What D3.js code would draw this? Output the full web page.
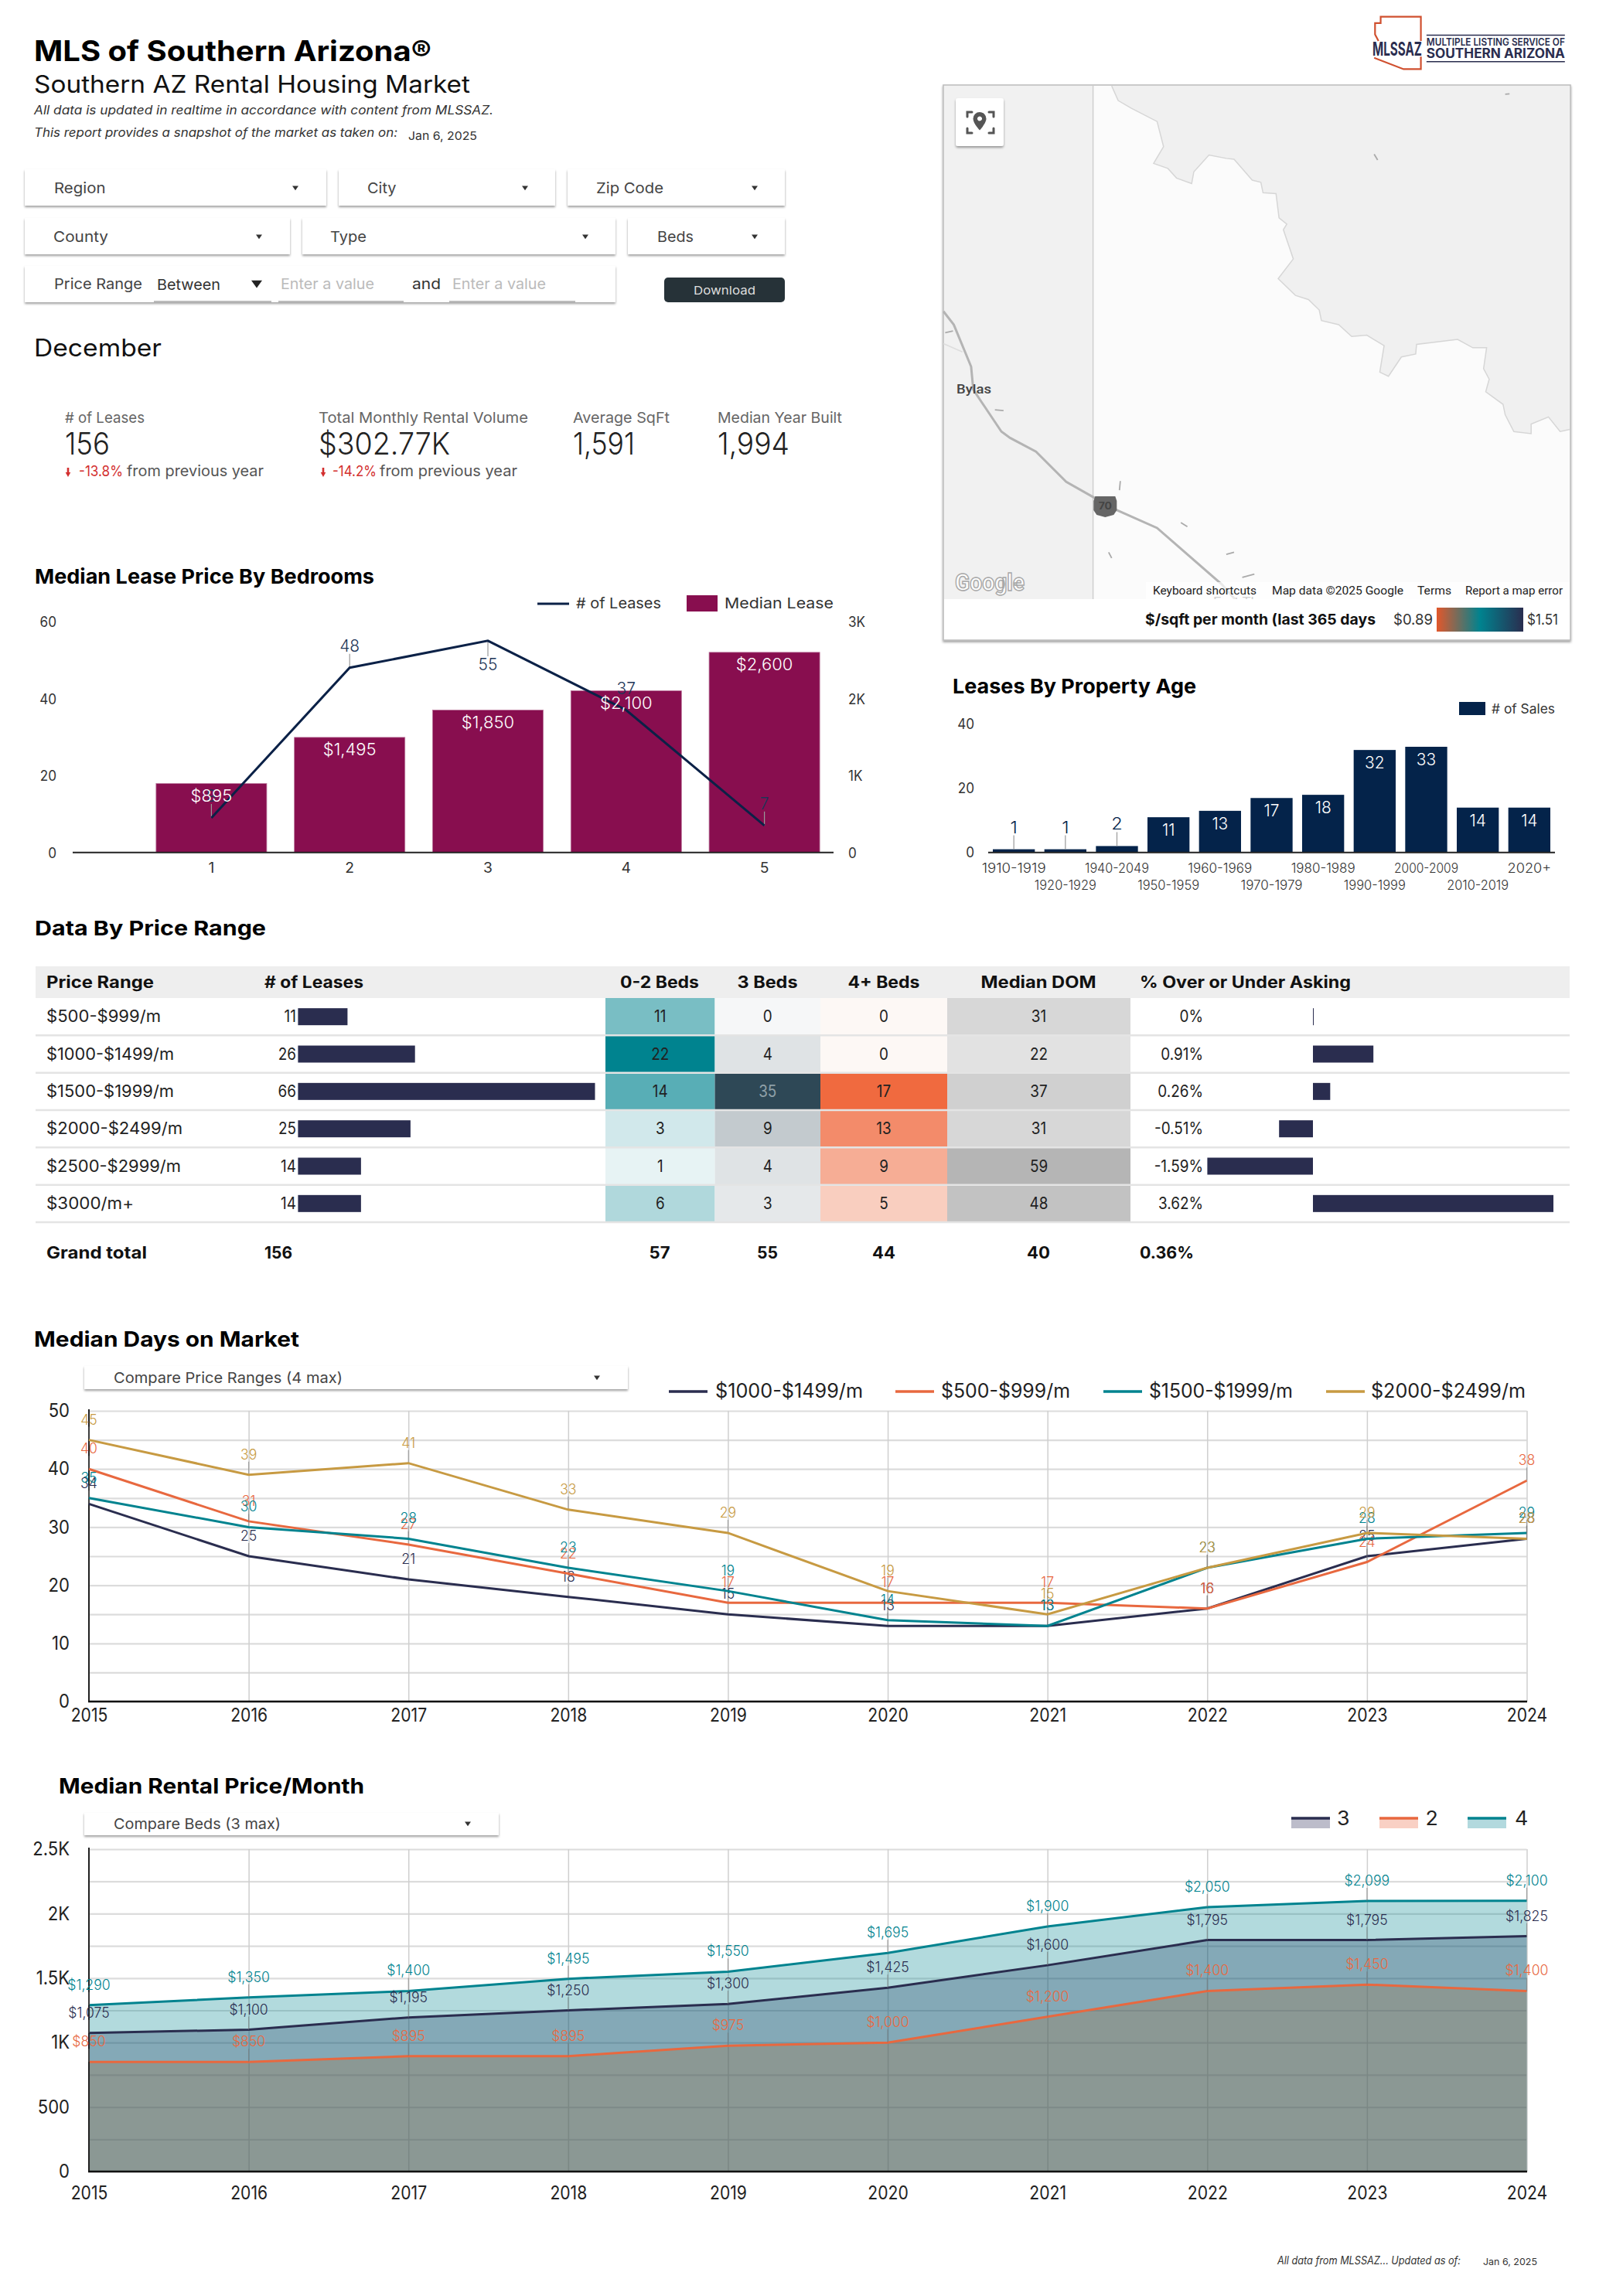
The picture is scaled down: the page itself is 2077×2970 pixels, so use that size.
<!DOCTYPE html>
<html><head><meta charset="utf-8">
<script src="https://cdn.jsdelivr.net/npm/d3@7"></script>
<style>html,body{margin:0;padding:0;background:#fff}svg{display:block}</style></head>
<body><svg id="c" width="2077" height="2970"></svg>
<script>
// ---------- data ----------
const bedrooms=[1,2,3,4,5];
const medianLease=[895,1495,1850,2100,2600];
const leaseCounts=[9,48,55,37,7];
const ageBuckets=["1910-1919","1920-1929","1940-2049","1950-1959","1960-1969","1970-1979","1980-1989","1990-1999","2000-2009","2010-2019","2020+"];
const ageCounts=[1,1,2,11,13,17,18,32,33,14,14];
const priceRanges=["$500-$999/m","$1000-$1499/m","$1500-$1999/m","$2000-$2499/m","$2500-$2999/m","$3000/m+"];
const rangeLeases=[11,26,66,25,14,14];
const beds02=[11,22,14,3,1,6];
const beds3=[0,4,35,9,4,3];
const beds4=[0,0,17,13,9,5];
const medianDom=[31,22,37,31,59,48];
const overUnder=[0,0.91,0.26,-0.51,-1.59,3.62];
const totals=["Grand total","156","57","55","44","40","0.36%"];
const years=[2015,2016,2017,2018,2019,2020,2021,2022,2023,2024];
const domA=[34,25,21,18,15,13,13,16,25,28];
const domB=[40,31,27,22,17,17,17,16,24,38];
const domC=[35,30,28,23,19,14,13,23,28,29];
const domD=[45,39,41,33,29,19,15,23,29,28];
const rent3=[1075,1100,1195,1250,1300,1425,1600,1795,1795,1825];
const rent2=[850,850,895,895,975,1000,1200,1400,1450,1400];
const rent4=[1290,1350,1400,1495,1550,1695,1900,2050,2099,2100];

// ---------- helpers ----------
const FONT="Inter, 'Open Sans', sans-serif", STRETCH=1.07;
const NAVY="#2a2d4f", ORANGE="#e8683f", TEAL="#00838f", GOLD="#c79a42", DEEP="#04234a", WINE="#880e4f";
const svg=d3.select("#c").style("font-family",FONT);
const defs=svg.append("defs");
const f=defs.append("filter").attr("id","sh").attr("x","-5%").attr("y","-20%").attr("width","110%").attr("height","150%");
f.append("feDropShadow").attr("dx",0).attr("dy",2).attr("stdDeviation",1.6).attr("flood-color","#000").attr("flood-opacity",.38);
function fit(node,w,st){const l=w||node.getComputedTextLength()*(st||STRETCH);node.setAttribute("textLength",l);node.setAttribute("lengthAdjust","spacingAndGlyphs");}
function T(g,x,y,s,o={}){
  const t=g.append("text").attr("x",x).attr("y",y).text(s)
    .attr("font-size",o.size||19).attr("font-weight",o.weight||400).attr("fill",o.fill||"#222")
    .attr("text-anchor",o.anchor||"start").attr("font-style",o.italic?"italic":"normal");
  if(o.family)t.attr("font-family",o.family);
  fit(t.node(),o.w,o.st);
  return t;
}
function axisText(sel,size,fill,st){sel.selectAll("text").attr("font-size",size).attr("fill",fill||"#222").attr("font-family",FONT).each(function(){fit(this,null,st)});}
function dropdown(x,y,w,h,label,lx,tx,ly,lw){
  svg.append("rect").attr("x",x).attr("y",y).attr("width",w).attr("height",h).attr("fill","#fff").attr("filter","url(#sh)");
  T(svg,lx,ly,label,{size:19,fill:"#444",w:lw});
  if(tx)tri(tx,ly-7,4,"#333");
}
function tri(x,y,r,c){svg.append("path").attr("d",`M${x-r},${y-r*.6}L${x+r},${y-r*.6}L${x},${y+r*.8}Z`).attr("fill",c);}

// ---------- header ----------
T(svg,44,79,"MLS of Southern Arizona®",{size:37,weight:700,fill:"#000",w:514});
T(svg,44,120,"Southern AZ Rental Housing Market",{size:31,fill:"#111",w:564});
T(svg,44,148,"All data is updated in realtime in accordance with content from MLSSAZ.",{size:16,italic:1,fill:"#333",w:594});
T(svg,44,177,"This report provides a snapshot of the market as taken on:",{size:16,italic:1,fill:"#333",w:470});
T(svg,528,181,"Jan 6, 2025",{size:15,fill:"#333",w:89});

dropdown(32,219,390,47,"Region",70,382,250,66.5);
dropdown(438,219,280,47,"City",475,679,250,37.5);
dropdown(734,219,281,47,"Zip Code",771,976,250,87);
dropdown(32,282,343,47,"County",69,335,313,71);
dropdown(391,282,405,47,"Type",427,757,313,47);
dropdown(812,282,203,47,"Beds",850,976,313,47);
dropdown(32,344,764,47,"Price Range",70,null,374,114);
T(svg,203,375,"Between",{size:19,fill:"#333",w:82});
tri(332,367,7,"#222");
[[199,351],[360,522],[581,744]].forEach(([a,b])=>svg.append("line").attr("x1",a).attr("x2",b).attr("y1",390).attr("y2",390).attr("stroke","#bbb").attr("stroke-width",2));
T(svg,363,374,"Enter a value",{size:19,fill:"#bbb",w:121});
T(svg,533,374,"and",{size:19,fill:"#333",w:37});
T(svg,585,374,"Enter a value",{size:19,fill:"#bbb",w:121});
svg.append("rect").attr("x",859).attr("y",359).attr("width",156).attr("height",32).attr("rx",5).attr("fill","#263238");
T(svg,937,381,"Download",{size:15,fill:"#ddd",anchor:"middle",w:80});
T(svg,44,461,"December",{size:31,fill:"#111",w:165});

// KPIs
const kpiX=[84,412,741,928];
[["# of Leases","156",103,58],["Total Monthly Rental Volume","$302.77K",271,170],["Average SqFt","1,591",125,80],["Median Year Built","1,994",161,93]].forEach((k,i)=>{
  T(svg,kpiX[i],547,k[0],{size:19,fill:"#666",w:k[2]});
  T(svg,kpiX[i],588,k[1],{size:39,fill:"#222",weight:300,w:k[3]});
});
[[88,102,164,"-13.8%",177],[418,430,491,"-14.2%",178]].forEach(a=>{
  svg.append("path").attr("d",`M${a[0]-1.3},605h2.6v6h2l-3.3,6l-3.3,-6h2z`).attr("fill","#d32f2f");
  T(svg,a[1],616,a[3],{size:19,fill:"#d32f2f",w:57});
  T(svg,a[2],616,"from previous year",{size:19,fill:"#555",w:a[4]});
});

// ---------- logo ----------
const mx=X=>1200+X/1.788, my=Y=>Y/1.845;
const P=pts=>d3.line()(pts.map(p=>[mx(p[0]),my(p[1])]));
const logo=svg.append("g");
logo.append("path").attr("d",P([[1140,98],[1140,40],[1047,40],[1047,55],[1034,55],[1034,82],[1042,98]])).attr("fill","none").attr("stroke","#d0502f").attr("stroke-width",2.2);
logo.append("path").attr("d",P([[1032,138],[1100,165],[1140,165],[1140,135]])).attr("fill","none").attr("stroke","#d0502f").attr("stroke-width",2.2);
T(logo,mx(1028),71.5,"MLSSAZ",{size:24,weight:700,fill:NAVY,w:64});
T(logo,mx(1153),58.5,"MULTIPLE LISTING SERVICE OF",{size:13,weight:600,fill:NAVY,w:179});
T(logo,mx(1153),75,"SOUTHERN ARIZONA",{size:17,weight:700,fill:NAVY,w:179});
[84,147].forEach(y=>logo.append("line").attr("x1",mx(1153)).attr("x2",mx(1473)).attr("y1",my(y)).attr("y2",my(y)).attr("stroke",NAVY).attr("stroke-width",1.5));

// ---------- map ----------
const map=svg.append("g");
map.append("rect").attr("x",1220).attr("y",110).attr("width",811).attr("height",718).attr("fill","#fff").attr("stroke","#bbb").attr("stroke-width",1.5).attr("filter","url(#sh)");
map.append("rect").attr("x",1221).attr("y",111).attr("width",809).attr("height",664).attr("fill","#fbfbfb");
map.append("rect").attr("x",1221).attr("y",111).attr("width",193).attr("height",664).attr("fill","#f1f1f1");
map.append("line").attr("x1",1413.6).attr("x2",1413.6).attr("y1",111).attr("y2",775).attr("stroke","#cfcfcf").attr("stroke-width",1.5);
const border=[[425,205],[440,240],[470,258],[530,290],[545,350],[522,390],[555,402],[575,425],[610,438],[615,410],[650,370],[690,378],[708,380],[750,430],[770,435],[775,460],[805,462],[812,520],[830,535],[822,548],[845,618],[810,665],[850,705],[880,715],[905,740],[910,765],[950,775],[980,803],[1015,800],[1055,825],[1045,888],[1065,898],[1095,852],[1128,845],[1130,822],[1225,810],[1260,830],[1292,830],[1285,880],[1298,905],[1290,935],[1330,965],[1335,990],[1355,1030],[1395,1035],[1395,1012],[1435,995],[1462,1030],[1484,1025]];
map.append("path").attr("d",P(border.concat([[1484,205]]))+"Z").attr("fill","#f0f0f0");
map.append("path").attr("d",P(border)).attr("fill","none").attr("stroke","#d6d6d6").attr("stroke-width",1.5);
map.append("path").attr("d",P([[36,743],[60,775],[100,875],[105,930],[170,1030],[190,1045],[250,1078],[320,1150],[385,1188],[410,1205],[530,1260],[680,1395],[710,1430]])).attr("fill","none").attr("stroke","#b4b4b4").attr("stroke-width",3);
map.append("path").attr("d",P([[36,820],[80,840]])).attr("fill","none").attr("stroke","#ddd").attr("stroke-width",1.5);
[[[445,1148],[443,1170]],[[585,1247],[600,1257]],[[418,1318],[425,1332]],[[690,1323],[708,1318]],[[727,1378],[755,1370]],[[1335,225],[1345,224]],[[1032,368],[1040,382]],[[155,978],[175,980]],[[40,794],[58,790]]].forEach(s=>map.append("path").attr("d",P(s)).attr("stroke","#aaa").attr("stroke-width",1.8).attr("fill","none"));
T(map,1237,509,"Bylas",{size:17,weight:500,fill:"#444",family:"Roboto",w:45});
const sx=mx(410),sy=my(1205);
map.append("path").attr("d",`M${sx-13},${sy-11}h26l2,6v12l-4,6l-11,3l-11,-3l-4,-6v-12z`).attr("fill","#666");
T(map,sx,sy+6,"70",{size:13,weight:700,fill:"#444",anchor:"middle"});
T(map,1569,783,"Fort Thomas",{size:15,fill:"#666",family:"Roboto",w:105});
T(map,1235,764,"Google",{size:31,weight:700,fill:"#fff",family:"Roboto",w:90}).attr("stroke","#a8a8a8").attr("stroke-width",1.5);
map.append("rect").attr("x",1482).attr("y",753).attr("width",548).attr("height",22).attr("fill","#fff").attr("opacity",.7);
[[1491,"Keyboard shortcuts",134],[1645,"Map data ©2025 Google",170],[1833,"Terms",44],[1895,"Report a map error",126]].forEach(a=>T(map,a[0],769,a[1],{size:14,fill:"#222",family:"Roboto",w:a[2]}));
map.append("rect").attr("x",1221).attr("y",775).attr("width",809).attr("height",52).attr("fill","#fff");
const gr=defs.append("linearGradient").attr("id","gr");
[[0,"#e2572b"],[.5,"#00838f"],[1,NAVY]].forEach(s=>gr.append("stop").attr("offset",s[0]).attr("stop-color",s[1]));
T(map,1481,808,"$/sqft per month (last 365 days",{size:19,weight:700,fill:"#111",w:298});
T(map,1802,808,"$0.89",{size:19,fill:"#333",w:51});
map.append("rect").attr("x",1858).attr("y",786).attr("width",112).attr("height",31).attr("fill","url(#gr)");
T(map,1975,808,"$1.51",{size:19,fill:"#333",w:40});
map.append("rect").attr("x",1236).attr("y",127).attr("width",62).attr("height",62).attr("rx",3).attr("fill","#fff").attr("filter","url(#sh)");
const ic=map.append("g").attr("fill","none").attr("stroke","#555").attr("stroke-width",3).attr("stroke-linecap","round");
[[1251,145,1,1],[1285,145,-1,1],[1251,172,1,-1],[1285,172,-1,-1]].forEach(c=>ic.append("path").attr("d",`M${c[0]},${c[1]+c[3]*6}V${c[1]}H${c[0]+c[2]*6}`));
map.append("path").attr("d","M1267,145a8.5,8.5 0 0 1 8.5,8.5c0,6-8.5,15-8.5,15s-8.5,-9-8.5,-15a8.5,8.5 0 0 1 8.5,-8.5zm0,5.5a3,3 0 1 0 .01,0z").attr("fill","#555").attr("fill-rule","evenodd");

// ---------- Median Lease Price by Bedrooms ----------
T(svg,45,755,"Median Lease Price By Bedrooms",{size:26,weight:700,fill:"#000",w:439});
const c1=svg.append("g");
const x1=d3.scaleBand().domain(bedrooms).range([184,1078]).paddingInner(.2).paddingOuter(.1);
const yL=d3.scaleLinear().domain([0,60]).range([1102.7,804]);
const yR=d3.scaleLinear().domain([0,3000]).range([1102.7,804]);
c1.selectAll("rect").data(bedrooms).join("rect").attr("x",d=>x1(d)).attr("width",x1.bandwidth())
  .attr("y",(d,i)=>yR(medianLease[i])).attr("height",(d,i)=>1102.7-yR(medianLease[i])).attr("fill",WINE).attr("stroke","#b9749a").attr("stroke-width",.8);
const aL=c1.append("g").attr("transform","translate(76,1)").call(d3.axisLeft(yL).tickValues([0,20,40,60]).tickSize(0));
aL.select(".domain").remove();axisText(aL,18,"#333",.95);
const aR=c1.append("g").attr("transform","translate(1094,1)").call(d3.axisRight(yR).tickValues([0,1000,2000,3000]).tickSize(0).tickFormat(d=>d?d/1000+"K":"0"));
aR.select(".domain").remove();axisText(aR,18,"#333",.95);
const aB=c1.append("g").attr("transform","translate(0,1113)").call(d3.axisBottom(x1).tickSize(0));
aB.select(".domain").remove();axisText(aB,18,"#333");
c1.append("line").attr("x1",94).attr("x2",1078).attr("y1",1102.7).attr("y2",1102.7).attr("stroke","#222").attr("stroke-width",2);
const lc=i=>x1(bedrooms[i])+x1.bandwidth()/2;
const dyLab=[-21,-21,38,-21,-21];
leaseCounts.forEach((v,i)=>{
  const y=yL(v);
  if(i!==3)c1.append("line").attr("x1",lc(i)).attr("x2",lc(i)).attr("y1",y).attr("y2",y+(dyLab[i]>0?dyLab[i]-18:dyLab[i]+3)).attr("stroke","#999").attr("stroke-width",1.2);
  T(c1,lc(i),y+dyLab[i],v,{size:22,fill:"#1d3557",anchor:"middle",weight:300,st:.95});
});
c1.append("path").attr("d",d3.line().x((d,i)=>lc(i)).y(d=>yL(d))(leaseCounts)).attr("fill","none").attr("stroke","#0b2147").attr("stroke-width",3);
medianLease.forEach((v,i)=>T(c1,lc(i),yR(v)+23,d3.format("$,")(v),{size:22,fill:"#fff",anchor:"middle",weight:300,st:1}));
c1.append("line").attr("x1",695).attr("x2",736).attr("y1",781).attr("y2",781).attr("stroke","#0b2147").attr("stroke-width",3);
T(c1,745,787,"# of Leases",{size:19,fill:"#333",w:110});
c1.append("rect").attr("x",888).attr("y",770).attr("width",40).attr("height",21).attr("fill",WINE);
T(c1,937,787,"Median Lease",{size:19,fill:"#333",w:141});

// ---------- Leases by Property Age ----------
T(svg,1232,897,"Leases By Property Age",{size:26,weight:700,fill:"#000",w:315});
const c2=svg.append("g");
const x2=d3.scaleBand().domain(ageBuckets).range([1278,2011]).paddingInner(.185).paddingOuter(.09);
const y2=d3.scaleLinear().domain([0,40]).range([1102.7,937]);
c2.selectAll("rect").data(ageBuckets).join("rect").attr("x",d=>x2(d)).attr("width",x2.bandwidth())
  .attr("y",(d,i)=>y2(ageCounts[i])).attr("height",(d,i)=>1102.7-y2(ageCounts[i])).attr("fill",DEEP);
const a2=c2.append("g").attr("transform","translate(1263,0)").call(d3.axisLeft(y2).tickValues([0,20,40]).tickSize(0));
a2.select(".domain").remove();axisText(a2,18,"#333",.95);
c2.append("line").attr("x1",1278).attr("x2",2011).attr("y1",1102.7).attr("y2",1102.7).attr("stroke","#222").attr("stroke-width",2);
ageBuckets.forEach((b,i)=>{
  const cx=x2(b)+x2.bandwidth()/2,v=ageCounts[i],top=y2(v);
  T(c2,cx,i%2?1151:1129,b,{size:17,fill:"#333",anchor:"middle",weight:300,w:b.length>5?(i%2?80:83):null});
  if(v<5){
    c2.append("line").attr("x1",cx).attr("x2",cx).attr("y1",top).attr("y2",top-18).attr("stroke","#999").attr("stroke-width",1.2);
    T(c2,cx,top-21,v,{size:22,fill:DEEP,anchor:"middle",weight:300});
  } else T(c2,cx,top+24,v,{size:22,fill:"#fff",anchor:"middle",weight:300,st:.95});
});
c2.append("rect").attr("x",1887).attr("y",908).attr("width",34).attr("height",17).attr("fill",DEEP);
T(c2,1929,923,"# of Sales",{size:17,fill:"#333",w:82});

// ---------- Table ----------
T(svg,45,1210,"Data By Price Range",{size:26,weight:700,fill:"#000",w:299});
const tb=svg.append("g");
const row=d3.scaleBand().domain(priceRanges).range([1291,1581]);
const colE=[783,924.5,1061,1225,1462];
tb.append("rect").attr("x",46).attr("y",1250).attr("width",1984).attr("height",41).attr("fill","#eee");
[[60,"Price Range","start",139],[342,"# of Leases","start",128],[853,"0-2 Beds","middle",102],[992.5,"3 Beds","middle",78],[1143,"4+ Beds","middle",93],[1343,"Median DOM","middle",149],[1474,"% Over or Under Asking","start",273]]
 .forEach(h=>T(tb,h[0],1278,h[1],{size:21,weight:700,fill:"#111",anchor:h[2],w:h[3]}));
const cols=[
 [beds02,d3.scaleLinear().domain([0,22]).range(["#f2f8f9",TEAL])],
 [beds3,d3.scaleLinear().domain([0,35]).range(["#f6f7f8","#2e4856"])],
 [beds4,d3.scaleLinear().domain([0,17]).range(["#fdf8f5","#f06a3f"])],
 [medianDom,d3.scaleLinear().domain([22,59]).range(["#e2e2e2","#b5b5b5"])]
];
const xLease=d3.scaleLinear().domain([0,66]).range([385.4,769.5]);
const xPct=d3.scaleLinear().domain([0,3.62]).range([1698,2009]);
const rowW=[148,165,165,176,174,113];
cols.forEach((c,j)=>{
  tb.append("g").selectAll("rect").data(priceRanges).join("rect").attr("x",colE[j]).attr("width",colE[j+1]-colE[j])
    .attr("y",d=>row(d)).attr("height",row.bandwidth()).attr("fill",(d,i)=>c[1](c[0][i]));
});
priceRanges.forEach((p,i)=>{
  const y=row(p),m=y+row.bandwidth()/2;
  tb.append("line").attr("x1",46).attr("x2",2030).attr("y1",y+row.bandwidth()).attr("y2",y+row.bandwidth()).attr("stroke","#e4e4e4").attr("stroke-width",2.5);
  T(tb,60,m+7,p,{size:21,fill:"#222",w:rowW[i]});
  T(tb,383,m+7,rangeLeases[i],{size:21,fill:"#222",anchor:"end",st:.9});
  tb.append("rect").attr("x",xLease(0)).attr("y",m-11).attr("width",xLease(rangeLeases[i])-xLease(0)).attr("height",22).attr("fill",NAVY);
  cols.forEach((c,j)=>T(tb,(colE[j]+colE[j+1])/2,m+7,c[0][i],{size:21,anchor:"middle",fill:c[0][i]===35?"#8fa0a8":"#222",st:.9}));
  const v=overUnder[i];
  T(tb,1556,m+7,(v===0?"0":v.toFixed(2))+"%",{size:21,anchor:"end",fill:"#222",st:.9});
  tb.append("rect").attr("x",Math.min(xPct(0),xPct(v))).attr("y",m-11).attr("height",22).attr("width",Math.max(1,Math.abs(xPct(v)-xPct(0)))).attr("fill",NAVY);
});
[[60,"start",130],[342,"start",36],[853,"middle",27],[992.5,"middle",27],[1143,"middle",30],[1343,"middle",30],[1474,"start",70]].forEach((c,i)=>T(tb,c[0],1628,totals[i],{size:21,weight:700,fill:"#111",anchor:c[1],w:c[2]}));

// ---------- shared year chart ----------
function yearChart(g,yTop,yBot,dom,minorStep){
  const x=d3.scalePoint().domain(years).range([115,1974.5]);
  const y=d3.scaleLinear().domain(dom).range([yBot,yTop]);
  const gh=g.append("g").attr("transform","translate(115,0)").call(d3.axisLeft(y).tickValues(d3.range(dom[0],dom[1]+.01,minorStep)).tickSize(-1859.5).tickFormat(""));
  gh.select(".domain").remove();gh.selectAll("line").attr("stroke","#dcdcdc").attr("stroke-width",2.2);
  const gv=g.append("g").attr("transform",`translate(0,${yBot})`).call(d3.axisBottom(x).tickSize(-(yBot-yTop)).tickFormat(""));
  gv.select(".domain").remove();gv.selectAll("line").attr("stroke","#cfcfcf").attr("stroke-width",1.5);
  return {x,y};
}
function finish(g,sc,yTop,yBot,major,fmt,bline){
  const a=g.append("g").attr("transform","translate(93,0)").call(d3.axisLeft(sc.y).tickValues(major).tickSize(0).tickFormat(fmt));
  a.select(".domain").remove();axisText(a,24,"#222",.92);
  g.append("line").attr("x1",115).attr("x2",115).attr("y1",yTop-2).attr("y2",yBot).attr("stroke","#222").attr("stroke-width",2);
  g.append("line").attr("x1",114).attr("x2",1975).attr("y1",yBot).attr("y2",yBot).attr("stroke","#111").attr("stroke-width",2.5);
  const b=g.append("g").attr("transform",`translate(0,${bline-19})`).call(d3.axisBottom(sc.x).tickSize(0).tickFormat(d3.format("d")));
  b.select(".domain").remove();axisText(b,24,"#222",.88);
}
function pointLabels(g,sc,vals,color,fmt,size){
  vals.forEach((v,i)=>{
    const px=sc.x(years[i]),py=sc.y(v);
    g.append("line").attr("x1",px).attr("x2",px).attr("y1",py).attr("y2",py-17).attr("stroke","#777").attr("stroke-opacity",.6).attr("stroke-width",1.2);
    T(g,px,py-20,fmt(v),{size:size,fill:color,anchor:"middle",weight:300,st:.98});
  });
}

// ---------- Median Days on Market ----------
T(svg,44,1742,"Median Days on Market",{size:27,weight:700,fill:"#000",w:343});
const c3=svg.append("g");
const s3=yearChart(c3,1825,2201,[0,50],5);
finish(c3,s3,1825,2201,[0,10,20,30,40,50],d3.format("d"),2226);
const domSeries=[[domA,NAVY,"$1000-$1499/m",865,925,191],[domB,ORANGE,"$500-$999/m",1158,1217,167],[domC,TEAL,"$1500-$1999/m",1427,1486,186],[domD,GOLD,"$2000-$2499/m",1715,1773,200]];
const ln3=d3.line().x((d,i)=>s3.x(years[i])).y(d=>s3.y(d));
domSeries.forEach(s=>{
  pointLabels(c3,s3,s[0],s[1],d3.format("d"),18);
  c3.append("path").attr("d",ln3(s[0])).attr("fill","none").attr("stroke",s[1]).attr("stroke-width",3);
  c3.append("line").attr("x1",s[3]).attr("x2",s[3]+50).attr("y1",1800).attr("y2",1800).attr("stroke",s[1]).attr("stroke-width",3.5);
  T(c3,s[4],1808,s[2],{size:25,fill:"#222",w:s[5]});
});
dropdown(109,1767,703,30,"Compare Price Ranges (4 max)",147,772,1789,296);

// ---------- Median Rental Price ----------
T(svg,76,2320,"Median Rental Price/Month",{size:27,weight:700,fill:"#000",w:395});
const c4=svg.append("g");
const s4=yearChart(c4,2392,2809,[0,2500],250);
const rentSeries=[[rent4,TEAL,"4",1898,1959,"#b2d9de","#00838f"],[rent3,NAVY,"3",1670,1729,"#bcbcca","#1c3761"],[rent2,ORANGE,"2",1784,1843.6,"#f9d0c4","#9c7046"]];
const ar4=d3.area().x((d,i)=>s4.x(years[i])).y0(s4.y(0)).y1(d=>s4.y(d));
const ln4=d3.line().x((d,i)=>s4.x(years[i])).y(d=>s4.y(d));
rentSeries.forEach(s=>c4.append("path").attr("d",ar4(s[0])).attr("fill",s[6]).attr("fill-opacity",.3));
rentSeries.forEach(s=>c4.append("path").attr("d",ln4(s[0])).attr("fill","none").attr("stroke",s[1]).attr("stroke-width",3));
finish(c4,s4,2392,2809,[0,500,1000,1500,2000,2500],d=>d>=1000?d/1000+"K":d,2844);
[rent3,rent2,rent4].forEach((r,i)=>pointLabels(c4,s4,r,[NAVY,ORANGE,TEAL][i],d3.format("$,"),18));
rentSeries.forEach(s=>{
  c4.append("rect").attr("x",s[3]).attr("y",2352).attr("width",50).attr("height",13).attr("fill",s[5]);
  c4.append("line").attr("x1",s[3]).attr("x2",s[3]+50).attr("y1",2352).attr("y2",2352).attr("stroke",s[1]).attr("stroke-width",3.5);
  T(c4,s[4],2360.6,s[2],{size:25,fill:"#222"});
});
dropdown(109,2345,536,29,"Compare Beds (3 max)",147,605,2366,216);

// footer
T(svg,1652,2928.5,"All data from MLSSAZ... Updated as of:",{size:14,italic:1,fill:"#333",w:237});
T(svg,1918,2930,"Jan 6, 2025",{size:12,fill:"#333",w:70});
</script></body></html>
